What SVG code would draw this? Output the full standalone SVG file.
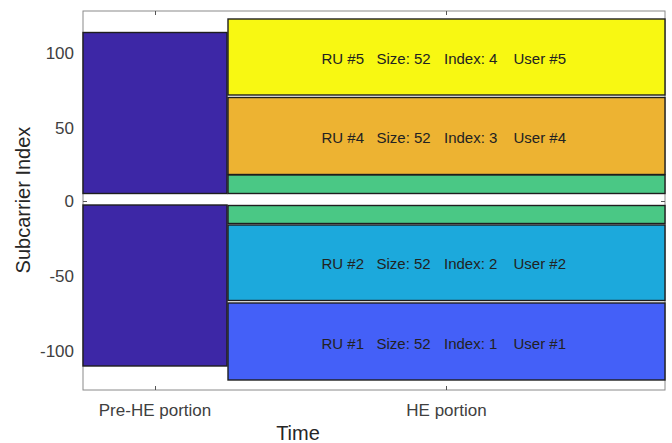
<svg xmlns="http://www.w3.org/2000/svg" width="672" height="443" viewBox="0 0 672 443">
<style>
.blk{stroke:#1e1e1e;stroke-width:1.4}
.ru{font-family:"Liberation Sans",Arial,sans-serif;font-size:15px;fill:#222}
.tk{font-family:"Liberation Sans",Arial,sans-serif;font-size:17px;fill:#404040;text-anchor:end}
.xl{font-family:"Liberation Sans",Arial,sans-serif;font-size:17px;fill:#404040;text-anchor:middle}
.lab{font-family:"Liberation Sans",Arial,sans-serif;font-size:20px;fill:#262626;text-anchor:middle}
.ax{stroke:#8a8a8a;stroke-width:1;fill:none}
.tick{stroke:#555;stroke-width:1}
</style>
<rect width="672" height="443" fill="#ffffff"/>
<g id="axes">
<rect class="ax" x="83" y="11" width="582" height="379"/>
<path class="tick" d="M83 53h4M83 127.5h4M83 201.5h4M83 276h4M83 350.5h4M665 53h-4M665 127.5h-4M665 201.5h-4M665 276h-4M665 350.5h-4M155.5 390v-4M446.5 390v-4M155.5 11v4M446.5 11v4"/>
</g>
<g id="pre-he">
<rect class="blk" x="83" y="32.5" width="144" height="161" fill="#3d27a6"/>
<rect class="blk" x="83" y="205" width="144" height="161" fill="#3d27a6"/>
</g>
<g id="ru5">
<rect class="blk" x="228" y="19" width="437" height="76" fill="#f8f812"/>
<text class="ru" y="64"><tspan x="321.5">RU #5</tspan><tspan x="376.5">Size: 52</tspan><tspan x="444">Index: 4</tspan><tspan x="513.5">User #5</tspan></text>
</g>
<g id="ru4">
<rect class="blk" x="228" y="97.5" width="437" height="77" fill="#edb332"/>
<text class="ru" y="143"><tspan x="321.5">RU #4</tspan><tspan x="376.5">Size: 52</tspan><tspan x="444">Index: 3</tspan><tspan x="513.5">User #4</tspan></text>
</g>
<g id="ru3">
<rect class="blk" x="228" y="175" width="437" height="18.5" fill="#4ac885"/>
<rect class="blk" x="228" y="205.5" width="437" height="18" fill="#4ac885"/>
</g>
<g id="ru2">
<rect class="blk" x="228" y="225" width="437" height="75.5" fill="#1ca9dc"/>
<text class="ru" y="269"><tspan x="321.5">RU #2</tspan><tspan x="376.5">Size: 52</tspan><tspan x="444">Index: 2</tspan><tspan x="513.5">User #2</tspan></text>
</g>
<g id="ru1">
<rect class="blk" x="228" y="303" width="437" height="77" fill="#4460f8"/>
<text class="ru" y="348.5"><tspan x="321.5">RU #1</tspan><tspan x="376.5">Size: 52</tspan><tspan x="444">Index: 1</tspan><tspan x="513.5">User #1</tspan></text>
</g>
<g id="labels">
<text class="tk" x="74" y="59">100</text>
<text class="tk" x="74" y="133.5">50</text>
<text class="tk" x="74" y="207">0</text>
<text class="tk" x="74" y="282">-50</text>
<text class="tk" x="74" y="357">-100</text>
<text class="xl" x="155" y="415.5">Pre-HE portion</text>
<text class="xl" x="446.5" y="415.5">HE portion</text>
<text class="lab" x="298" y="440">Time</text>
<text class="lab" transform="translate(30,200) rotate(-90)">Subcarrier Index</text>
</g>
<g id="connectors"/>
</svg>
